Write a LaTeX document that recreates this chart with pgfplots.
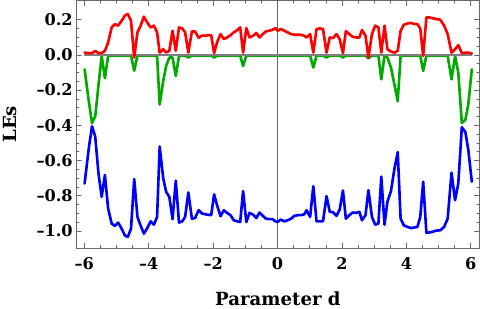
\documentclass[border=0pt]{standalone}
\usepackage{fontspec}
\setmainfont{DejaVu Serif}
\usepackage{pgfplots}
\usepackage{pgfplotstable}
\pgfplotsset{compat=1.18}
\definecolor{mgreen}{rgb}{0.0,0.667,0.0}
\definecolor{framegray}{rgb}{0.4,0.4,0.4}
\pgfplotstableread{
d r g b
-5.99 0.013 -0.082 -0.730
-5.86 0.010 -0.263 -0.530
-5.76 0.010 -0.387 -0.405
-5.66 0.023 -0.349 -0.465
-5.56 0.010 -0.172 -0.672
-5.46 0.010 -0.006 -0.806
-5.36 0.023 -0.132 -0.682
-5.26 0.070 -0.006 -0.872
-5.15 0.156 -0.004 -0.958
-5.05 0.175 -0.004 -0.971
-4.95 0.166 -0.004 -0.952
-4.84 0.194 -0.004 -0.987
-4.74 0.223 -0.004 -1.025
-4.65 0.232 -0.004 -1.034
-4.55 0.194 -0.004 -0.987
-4.45 -0.015 -0.090 -0.705
-4.35 0.128 -0.004 -0.920
-4.25 0.166 -0.004 -0.970
-4.15 0.217 -0.004 -1.015
-4.05 0.185 -0.004 -0.985
-3.94 0.156 -0.004 -0.945
-3.84 0.166 -0.004 -0.964
-3.74 0.128 -0.006 -0.920
-3.66 0.013 -0.282 -0.520
-3.55 0.032 -0.149 -0.700
-3.46 0.013 -0.063 -0.777
-3.36 0.023 -0.015 -0.806
-3.26 0.137 -0.015 -0.933
-3.16 0.023 -0.120 -0.714
-3.06 0.156 -0.006 -0.952
-2.96 0.150 -0.004 -0.945
-2.87 0.128 -0.004 -0.920
-2.77 0.013 -0.015 -0.781
-2.66 0.133 -0.004 -0.930
-2.56 0.133 -0.004 -0.926
-2.45 0.097 -0.004 -0.882
-2.35 0.109 -0.004 -0.900
-2.24 0.109 -0.004 -0.905
-2.14 0.112 -0.004 -0.908
-2.06 0.112 -0.004 -0.910
-1.97 0.010 -0.015 -0.792
-1.88 0.070 -0.004 -0.853
-1.77 0.118 -0.004 -0.916
-1.67 0.090 -0.004 -0.882
-1.57 0.099 -0.004 -0.897
-1.46 0.112 -0.004 -0.910
-1.36 0.128 -0.004 -0.939
-1.25 0.141 -0.004 -0.945
-1.16 0.156 -0.004 -0.949
-1.07 0.013 -0.063 -0.773
-0.97 0.152 -0.004 -0.949
-0.87 0.099 -0.004 -0.897
-0.76 0.109 -0.004 -0.907
-0.66 0.124 -0.004 -0.926
-0.56 0.099 -0.004 -0.895
-0.46 0.118 -0.004 -0.914
-0.36 0.133 -0.004 -0.930
-0.26 0.137 -0.004 -0.932
-0.15 0.143 -0.004 -0.933
-0.07 0.152 -0.004 -0.945
0.00 0.137 -0.004 -0.949
0.10 0.147 -0.004 -0.935
0.21 0.137 -0.004 -0.945
0.31 0.128 -0.004 -0.939
0.42 0.118 -0.004 -0.930
0.52 0.114 -0.004 -0.914
0.63 0.114 -0.004 -0.910
0.73 0.114 -0.004 -0.910
0.83 0.108 -0.004 -0.905
0.90 0.099 -0.004 -0.882
1.01 0.118 -0.004 -0.920
1.11 0.013 -0.072 -0.745
1.21 0.147 -0.004 -0.945
1.31 0.150 -0.004 -0.945
1.41 0.147 -0.004 -0.945
1.52 0.013 -0.015 -0.802
1.62 0.099 -0.004 -0.891
1.72 0.095 -0.004 -0.893
1.83 0.118 -0.004 -0.914
1.93 0.088 -0.004 -0.877
2.03 0.010 -0.015 -0.770
2.12 0.135 -0.004 -0.930
2.23 0.118 -0.004 -0.910
2.33 0.103 -0.004 -0.895
2.44 0.099 -0.004 -0.897
2.54 0.099 -0.004 -0.891
2.62 0.141 -0.004 -0.939
2.73 0.109 -0.004 -0.910
2.82 -0.015 -0.020 -0.768
2.93 0.118 -0.004 -0.920
3.03 0.166 -0.004 -0.964
3.13 0.156 -0.004 -0.958
3.22 0.013 -0.139 -0.691
3.32 0.166 -0.004 -0.964
3.41 0.032 -0.015 -0.834
3.52 0.019 -0.072 -0.773
3.63 0.013 -0.170 -0.644
3.73 0.023 -0.263 -0.552
3.82 0.137 -0.006 -0.930
3.92 0.171 -0.004 -0.968
4.04 0.179 -0.004 -0.977
4.15 0.181 -0.004 -0.983
4.24 0.175 -0.004 -0.980
4.34 0.175 -0.004 -0.977
4.43 0.150 -0.004 -0.920
4.52 -0.006 -0.091 -0.720
4.62 0.213 -0.004 -1.010
4.72 0.212 -0.004 -1.008
4.82 0.208 -0.004 -1.004
4.91 0.204 -0.004 -0.998
5.05 0.200 -0.004 -0.996
5.17 0.166 -0.004 -0.977
5.28 0.118 -0.004 -0.930
5.40 0.013 -0.139 -0.669
5.51 0.032 -0.006 -0.825
5.61 0.055 -0.101 -0.730
5.72 0.010 -0.387 -0.411
5.83 0.013 -0.368 -0.438
5.92 0.013 -0.282 -0.539
6.03 0.008 -0.082 -0.720
}\lyap
\begin{document}
\begin{tikzpicture}
\begin{axis}[
  scale only axis, width=399bp, height=245bp,
  xmin=-6.25, xmax=6.27, ymin=-1.097, ymax=0.309,
  axis line style={draw=framegray, line width=0.9bp},
  tick align=inside,
  xtick={-6,-4,-2,0,2,4,6},
  xticklabels={–6,–4,–2,0,2,4,6},
  ytick={-1.0,-0.8,-0.6,-0.4,-0.2,0,0.2},
  yticklabels={–1.0,–0.8,–0.6,–0.4,–0.2,0.0,0.2},
  minor x tick num=3, minor y tick num=3,
  major tick length=5bp, minor tick length=2.7bp,
  every tick/.style={framegray, line width=0.7bp},
  ticklabel style={font=\fontsize{16}{16}\selectfont\bfseries, text=black},
  xticklabel style={yshift=-6bp},
  yticklabel style={xshift=0bp},
  extra x ticks={0}, extra x tick labels={},
  extra x tick style={grid=major, major grid style={framegray, line width=0.9bp}, major tick length=0pt},
  xlabel={Parameter d}, ylabel={LEs},
  label style={font=\fontsize{18}{18}\selectfont\bfseries},
  xlabel style={at={(axis description cs:0.5,-0.204)}, anchor=center},
  ylabel style={at={(axis description cs:-0.164,0.5)}, anchor=center, rotate=0},
  line join=round, line cap=round,
]
\addplot[mgreen, line width=2.6bp] table[x=d, y=g] {\lyap};
\addplot[gray, line width=1.8bp] coordinates {(-5.99,0.0) (6.03,0.0)};
\addplot[red, line width=2.6bp] table[x=d, y=r] {\lyap};
\addplot[blue, line width=2.6bp] table[x=d, y=b] {\lyap};
\end{axis}
\end{tikzpicture}
\end{document}
